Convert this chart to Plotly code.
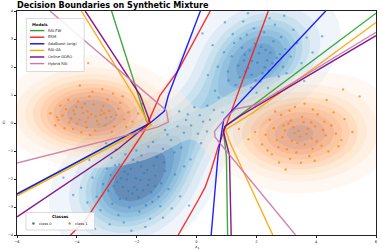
import numpy as np
import plotly.graph_objects as go

# ---------------- data ----------------
# class 1 (orange) samples
class1_x = [-3.52,-3.91,-3.18,-4.25,-2.86,-3.67,-4.02,-3.33,-2.61,-4.48,-3.79,-3.05,-4.13,-3.44,-2.97,-3.62,-4.36,-2.42,-3.85,-3.21,
            -4.61,-2.75,-3.58,-4.07,-3.12,-2.28,-3.96,-4.72,-3.39,-2.55,-3.71,-4.19,-2.92,-3.48,-4.41,-3.02,-2.14,-3.83,-4.55,-3.27,
            -2.68,-3.64,-4.29,-1.95,-3.15,-4.88,-2.83,-3.56,-4.11,-2.47,-3.74,-3.37,-4.66,-2.35,-3.90,-2.79,-3.09,-4.00,-1.82,-3.62,
            3.41,2.87,3.96,3.15,4.32,2.58,3.62,3.28,4.05,2.74,3.85,3.07,4.51,2.31,3.53,3.19,4.18,2.96,3.72,2.45,
            4.66,3.34,3.89,2.68,3.46,4.27,3.02,2.19,3.77,4.84,3.58,2.83,4.41,3.24,1.96,3.68,4.02,2.52,3.11,4.95,
            3.49,2.91,3.83,4.23,2.63,3.37,1.74,3.95,4.58,3.13,2.37,3.61,4.74,2.76,3.29,1.42,5.21,3.88,2.98,4.35,5.45,4.90]
class1_y = [0.31,0.12,0.45,0.02,0.22,-0.15,0.58,0.07,0.51,0.27,0.36,-0.08,-0.21,0.66,0.84,0.19,0.49,0.13,-0.33,0.29,
            0.11,-0.12,0.95,0.31,0.61,0.38,0.77,-0.08,-0.27,0.72,0.04,0.16,0.43,1.12,-0.19,0.18,0.05,0.55,0.62,-0.05,
            0.29,0.41,0.82,0.34,1.21,0.35,-0.31,-0.42,0.44,0.95,0.69,0.24,0.21,-0.14,1.34,1.05,0.35,-0.03,0.68,2.14,
            -0.28,-0.51,-0.12,0.08,-0.44,-0.19,-0.77,-0.36,0.31,-0.86,-0.55,-0.02,-0.09,-0.42,0.22,-0.63,-0.81,-0.27,-0.21,0.12,
            -0.38,-1.05,0.48,-0.61,-0.49,0.05,-0.94,-0.77,-1.18,-0.61,0.03,0.29,-1.02,-0.15,-0.32,-0.39,-0.66,-1.12,0.44,0.14,
            -1.42,-0.09,0.02,-0.25,0.41,-0.71,-0.58,-1.35,0.38,-1.28,-0.98,0.69,-0.83,-1.41,0.57,-0.21,-0.32,-0.92,-1.66,0.82,0.95,1.20]

# class 0 (blue) samples
class0_x = [-2.03,-1.62,-2.41,-1.85,-2.28,-1.37,-2.65,-1.94,-2.12,-1.51,-2.87,-1.74,-2.33,-1.18,-2.56,-2.08,-1.43,-2.95,-1.88,-2.19,
            -1.27,-2.72,-1.69,-2.46,-1.06,-3.12,-1.97,-2.24,-1.58,-2.81,-1.33,-2.52,-1.79,-3.34,-2.15,-0.94,-2.38,-1.65,-2.99,-1.48,
            -2.61,-1.91,-0.72,-3.48,-2.29,-1.21,-2.77,-1.84,-3.65,-2.43,-1.55,-0.55,-3.21,-2.01,-1.09,-2.69,-3.86,-1.71,-2.90,-0.41,
            -3.58,-2.35,-1.39,-2.84,-4.12,-1.12,-3.39,-0.83,-2.58,-1.99,-4.45,-2.18,-0.25,-3.02,-1.61,
            2.03,1.61,2.42,1.84,2.31,1.39,2.68,1.95,2.14,1.52,2.89,1.73,2.36,1.18,2.57,2.09,1.44,2.97,1.86,2.21,
            1.26,2.75,1.68,2.47,1.05,3.15,1.98,2.26,1.59,2.83,1.31,2.54,1.78,3.36,2.16,0.92,2.39,1.64,3.01,1.47,
            2.62,1.92,0.71,3.51,2.28,1.21,2.79,1.83,3.68,2.44,1.56,0.54,3.24,2.01,1.07,2.71,3.88,1.72,2.93,0.38,
            4.20,0.95,3.60,0.20,
            -0.42,0.11,-0.85,0.36,-0.18,-1.12,0.58,-0.63,0.05,-0.29,-0.97,0.74,-0.51,0.22,-1.31,-0.07,0.45,-0.74,-0.35,0.87,
            -1.05,0.15,-0.58,0.62,-1.45,-0.20,0.35]
class0_y = [-1.97,-2.21,-1.74,-1.55,-2.43,-1.88,-2.11,-2.65,-1.31,-2.48,-1.86,-1.79,-2.02,-2.15,-2.71,-2.28,-1.52,-2.42,-2.04,-1.63,
            -2.63,-1.52,-2.94,-2.29,-1.71,-2.18,-1.39,-3.02,-2.03,-2.88,-1.23,-1.97,-2.41,-2.63,-2.52,-2.36,-1.12,-1.68,-1.63,-2.81,
            -3.29,-3.17,-1.84,-1.95,-1.83,-2.97,-2.25,-1.16,-2.84,-3.55,-3.42,-2.62,-3.11,-0.98,-1.41,-0.95,-2.31,-3.71,-3.62,-1.55,
            -1.32,-2.69,-2.25,-1.24,-2.57,-3.38,-3.78,-3.05,-1.48,-2.38,-1.95,-3.85,-2.95,-0.72,-0.84,
            2.15,2.44,1.87,1.72,2.61,2.05,2.33,2.83,1.48,2.69,2.01,1.96,2.24,2.38,2.92,2.49,1.63,2.64,2.21,1.78,
            2.86,1.66,3.15,2.51,1.84,2.37,1.52,3.24,2.23,3.07,1.36,2.13,2.59,2.85,2.71,2.53,1.25,1.85,1.78,3.02,
            3.51,3.38,2.01,2.14,1.99,3.18,2.46,1.27,3.05,3.74,3.63,2.78,3.33,1.08,1.52,1.09,2.52,3.92,3.83,1.71,
            3.10,3.60,1.50,3.20,
            -0.35,0.28,-0.61,0.62,-0.09,-0.93,0.47,-0.12,-0.38,0.31,-0.41,0.91,-0.88,0.05,-1.21,0.56,0.12,-1.05,0.11,0.38,
            -0.25,-0.72,0.42,1.15,-0.68,-1.30,-0.30]

# decision boundaries (two branches per model, separated by None)
models = ["RAI-FW", "ERM", "AdaBoost (orig)", "RAI-GA", "Online GDRO", "Hybrid RAI"]
rai_fw_x = [-2.84, -1.66, -1.58, -6.0, None, 6.0, 0.95, 0.90, 1.00, 1.04]
rai_fw_y = [4.0, 0.04, -0.02, -2.56, None, 3.92, -0.12, -0.30, -1.20, -4.0]
erm_x = [0.46, -0.61, -1.22, -1.75, -3.71, -4.21, None, 2.40, 1.37, 1.08, 0.72, 0.49, 0.29, 0.06, -0.38, -0.61]
erm_y = [4.0, 1.88, 0.99, -0.30, -3.47, -4.0, None, 4.0, 0.99, 0.15, -0.87, -1.69, -2.29, -2.75, -3.57, -4.0]
ada_x = [0.13, -0.94, -1.08, -1.55, -6.0, None, 4.32, 0.91, 0.86, 0.72, 0.49]
ada_y = [4.0, 0.99, 0.42, 0.0, -2.53, None, 4.0, 0.12, -0.20, -1.15, -4.0]
rai_ga_x = [-3.85, -2.10, -1.62, -1.50, -6.0, None, 6.0, 1.90, 0.97, 1.11, 2.55]
rai_ga_y = [4.0, 0.99, 0.02, -0.08, -2.60, None, 3.59, 0.38, -0.24, -0.68, -4.0]
gdro_x = [-3.72, -1.88, -1.55, -2.60, -6.0, None, 6.0, 1.50, 0.95, 0.90, 1.10, 1.16]
gdro_y = [4.0, 0.99, 0.02, -0.91, -3.35, None, 3.12, 0.28, -0.12, -0.30, -1.15, -4.0]
hybrid_x = [-4.90, -1.01, -0.94, -1.30, -2.77, -6.0, None, 6.0, 2.0, 1.30, 0.95, 0.60, 0.62, 0.75, 3.31]
hybrid_y = [4.0, 0.45, 0.03, -0.15, -0.56, -1.43, None, 3.24, 0.65, 0.50, 0.15, -0.30, -0.50, -0.68, -4.0]

x_ticks = [-6, -4, -2, 0, 2, 4, 6]
x_tick_labels = ["−6", "−4", "−2", "0", "2", "4", "6"]
y_ticks = [-4, -3, -2, -1, 0, 1, 2, 3, 4]
y_tick_labels = ["−4", "−3", "−2", "−1", "0", "1", "2", "3", "4"]

# ---------------- styling ----------------
line_colors = ["#2ca02c", "#ff1a1a", "#0a0aff", "#ffa500", "#800080", "#cc79a7"]
BLUES = ['#f7fbff', '#deebf7', '#c6dbef', '#9ecae1', '#6baed6', '#4292c6', '#2171b5', '#08519c', '#08306b']
ORANGES = ['#fff5eb', '#fee6ce', '#fdd0a2', '#fdae6b', '#fd8d3c', '#f16913', '#d94801', '#a63603', '#7f2704']
FONT = "DejaVu Sans"
# smoothing kernels for the shaded density (style)
BW_BLUE = [[0.95, 0.38], [0.38, 0.95]]
BW_ORANGE = [[1.35, -0.05], [-0.05, 0.55]]

def hex2rgb(h):
    h = h.lstrip('#')
    return [int(h[i:i + 2], 16) for i in (0, 2, 4)]

def cmap(anchors, v):
    v = min(max(v, 0.0), 1.0)
    pos = v * (len(anchors) - 1)
    i = min(int(pos), len(anchors) - 2)
    t = pos - i
    a, b = hex2rgb(anchors[i]), hex2rgb(anchors[i + 1])
    c = [round(a[k] + (b[k] - a[k]) * t) for k in range(3)]
    return f"rgb({c[0]},{c[1]},{c[2]})"

gx = np.linspace(-6, 6, 161)
gy = np.linspace(-4, 4, 121)

def kde(xs, ys, bw):
    d = np.array([xs, ys], dtype=float)
    inv = np.linalg.inv(np.array(bw))
    X, Y = np.meshgrid(gx, gy)
    dx = X.ravel()[:, None] - d[0][None, :]
    dy = Y.ravel()[:, None] - d[1][None, :]
    q = inv[0, 0] * dx * dx + 2 * inv[0, 1] * dx * dy + inv[1, 1] * dy * dy
    return np.exp(-0.5 * q).sum(1).reshape(X.shape)

START, SIZE = 0.05, 0.105555

def contour_trace(xs, ys, bw, anchors, opacity):
    dens = kde(xs, ys, bw)
    flat = dens.ravel()
    srt = np.sort(flat)
    cum = np.cumsum(srt)
    cum /= cum[-1]
    idx = np.searchsorted(srt, flat, side='right') - 1
    zq = cum[idx].reshape(dens.shape)
    qs = [START + i * SIZE for i in range(10)]
    dl = [srt[min(np.searchsorted(cum, q), len(srt) - 1)] for q in qs]
    scale = [[0.0, 'rgba(255,255,255,0)'], [0.05, 'rgba(255,255,255,0)']]
    for i in range(9):
        m = 0.5 * (dl[i] + dl[i + 1])
        c = cmap(anchors, (m - dl[0]) / (dl[-1] - dl[0]))
        lo = round(0.05 + 0.1 * i, 4)
        hi = round(0.15 + 0.1 * i, 4)
        scale += [[lo, c], [hi, c]]
    scale += [[1.0, scale[-1][1]]]
    return go.Contour(x=gx, y=gy, z=zq, autocontour=False,
                      contours=dict(start=START, end=1.0, size=SIZE, coloring='fill', showlines=False),
                      colorscale=scale, showscale=False, line=dict(width=0),
                      opacity=opacity, hoverinfo='skip', showlegend=False)

fig = go.Figure()
fig.add_trace(contour_trace(class0_x, class0_y, BW_BLUE, BLUES, 0.62))
fig.add_trace(contour_trace(class1_x, class1_y, BW_ORANGE, ORANGES, 0.42))

fig.add_trace(go.Scatter(x=class0_x, y=class0_y, mode='markers', showlegend=False,
                         marker=dict(color='#1f77b4', size=2.4, opacity=0.5, line=dict(width=0))))
fig.add_trace(go.Scatter(x=class1_x, y=class1_y, mode='markers', showlegend=False,
                         marker=dict(color='#ff7f0e', size=2.4, opacity=0.7, line=dict(width=0))))

series = [(rai_fw_x, rai_fw_y), (erm_x, erm_y), (ada_x, ada_y), (rai_ga_x, rai_ga_y), (gdro_x, gdro_y), (hybrid_x, hybrid_y)]
for name, (xs, ys), col in zip(models, series, line_colors):
    fig.add_trace(go.Scatter(x=xs, y=ys, mode='lines', name=name, showlegend=False,
                             line=dict(color=col, width=1.4), opacity=0.9, connectgaps=False))

# ---------------- manual legends (pixel placement -> paper coords) ----------------
PLOT_L, PLOT_R, PLOT_T, PLOT_B = 17, 378, 11, 235
def fx(px):
    return (px - PLOT_L) / (PLOT_R - PLOT_L)
def fy(py):
    return (PLOT_B - py) / (PLOT_B - PLOT_T)

shapes = []
annotations = []
LEG_FONT = 3.7
# Models legend
shapes.append(dict(type='rect', xref='paper', yref='paper', x0=fx(26.5), x1=fx(84.5), y0=fy(71.5), y1=fy(18.5),
                   fillcolor='rgba(255,255,255,0.85)', line=dict(color='#cccccc', width=0.7), layer='above'))
annotations.append(dict(xref='paper', yref='paper', x=fx(30), y=fy(24.2), text='<b>Models</b>', showarrow=False,
                        xanchor='left', yanchor='middle', font=dict(family=FONT, size=LEG_FONT + 0.2, color='#111')))
for k, (name, col) in enumerate(zip(models, line_colors)):
    py = 30.6 + 6.6 * k
    shapes.append(dict(type='line', xref='paper', yref='paper', x0=fx(30), x1=fx(44.5), y0=fy(py), y1=fy(py),
                       line=dict(color=col, width=1.4), layer='above'))
    annotations.append(dict(xref='paper', yref='paper', x=fx(46.5), y=fy(py), text=name, showarrow=False,
                            xanchor='left', yanchor='middle', font=dict(family=FONT, size=LEG_FONT, color='#222')))

# Classes legend
shapes.append(dict(type='rect', xref='paper', yref='paper', x0=fx(26), x1=fx(95), y0=fy(230), y1=fy(212.5),
                   fillcolor='rgba(255,255,255,0.85)', line=dict(color='#cccccc', width=0.7), layer='above'))
annotations.append(dict(xref='paper', yref='paper', x=fx(60.5), y=fy(216.8), text='<b>Classes</b>', showarrow=False,
                        xanchor='center', yanchor='middle', font=dict(family=FONT, size=LEG_FONT + 0.2, color='#111')))
for cx, tx, col, lab in [(33.5, 36.8, '#1f77b4', 'class 0'), (70.0, 73.3, '#ff7f0e', 'class 1')]:
    r = 1.2
    shapes.append(dict(type='circle', xref='paper', yref='paper', x0=fx(cx - r), x1=fx(cx + r),
                       y0=fy(223.5 + r), y1=fy(223.5 - r), fillcolor=col, line=dict(width=0), layer='above'))
    annotations.append(dict(xref='paper', yref='paper', x=fx(tx), y=fy(223.5), text=lab, showarrow=False,
                            xanchor='left', yanchor='middle', font=dict(family=FONT, size=LEG_FONT, color='#222')))

# axis labels
annotations.append(dict(xref='paper', yref='paper', x=0.5, y=fy(246.5), text='<i>x</i><sub>1</sub>', showarrow=False,
                        xanchor='center', yanchor='middle', font=dict(family=FONT, size=4.2, color='#111')))
annotations.append(dict(xref='paper', yref='paper', x=fx(3.5), y=0.5, text='<i>x</i><sub>2</sub>', showarrow=False,
                        textangle=-90, xanchor='center', yanchor='middle', font=dict(family=FONT, size=4.2, color='#111')))

axis_common = dict(showgrid=False, zeroline=False, showline=True, mirror=True, linecolor='#222', linewidth=1,
                   ticks='outside', ticklen=2.2, tickwidth=0.6, tickcolor='#222',
                   tickfont=dict(family=FONT, size=3.6, color='#222'))
fig.update_layout(
    width=381, height=250,
    margin=dict(l=PLOT_L, r=381 - PLOT_R, t=PLOT_T, b=250 - PLOT_B),
    paper_bgcolor='white', plot_bgcolor='white',
    title=dict(text='<b>Decision Boundaries on Synthetic Mixture</b>', xref='container', x=PLOT_L / 381,
               xanchor='left', yref='container', y=1 - 5.2 / 250, yanchor='middle',
               font=dict(family=FONT, size=8.1, color='black')),
    xaxis=dict(range=[-6, 6], tickvals=x_ticks, ticktext=x_tick_labels, **axis_common),
    yaxis=dict(range=[-4, 4], tickvals=y_ticks, ticktext=y_tick_labels, **axis_common),
    shapes=shapes, annotations=annotations, showlegend=False,
)
fig.write_html("out.html", config={'displayModeBar': False},
               post_script="document.body.style.margin='0';document.body.style.overflow='hidden';")
